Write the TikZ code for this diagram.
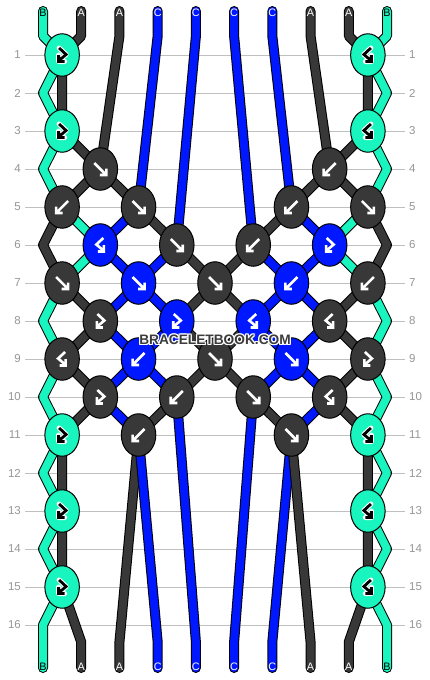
\documentclass[tikz,border=0pt]{standalone}
\usepackage{fontspec}
\setmainfont{Liberation Sans}
\usetikzlibrary{shapes.geometric}
\definecolor{cy}{RGB}{24,245,190}
\definecolor{dk}{RGB}{56,56,56}
\definecolor{bl}{RGB}{0,24,255}
\definecolor{gridc}{RGB}{192,192,192}
\definecolor{numc}{RGB}{150,150,150}
\definecolor{wmc}{RGB}{60,60,60}
\tikzset{
  strand/.style={line width=1pt, double distance=8pt, line cap=round, line join=round},
  knotshape/.style={ellipse, draw=black, line width=1pt, minimum width=34.5pt, minimum height=42.5pt, inner sep=0pt},
  gridline/.style={draw=gridc, line width=1pt},
  rownum/.style={text=numc, font=\fontsize{11.5}{12}\selectfont, inner sep=0pt},
  lab/.style={font=\fontsize{10.8}{11}\selectfont, inner sep=0pt},
  wm/.style={font=\bfseries\fontsize{13.7}{14}\selectfont, inner sep=0pt},
  arw/.style={draw=white, line width=2.6pt, line cap=butt, line join=miter},
  arwh/.style={draw=white, line width=5pt, line cap=round, line join=round},
  arwb/.style={draw=black, line width=2.8pt, line cap=butt, line join=miter},
  af/.pic={\draw[arw] (-6,-6) -- (5,5) (6,-0.5) -- (6,6) -- (-0.5,6);},
  ab/.pic={\draw[arw] (6,-6) -- (-5,5) (-6,-0.5) -- (-6,6) -- (0.5,6);},
  afb/.pic={\draw[arw] (-3,-7) -- (4,-0.5) -- (-2.5,5) (-3.5,0) -- (-3.5,6.5) -- (2.5,6.5);},
  abf/.pic={\draw[arw] (3,-7) -- (-4,-0.5) -- (2.5,5) (3.5,0) -- (3.5,6.5) -- (-2.5,6.5);},
  cfb/.pic={\draw[arwh] (-3,-7) -- (4,-0.5) -- (-2.5,5) (-3.5,0) -- (-3.5,6.5) -- (2.5,6.5);
            \draw[arwb] (-3,-7) -- (4,-0.5) -- (-2.5,5) (-3.5,0) -- (-3.5,6.5) -- (2.5,6.5);},
  cbf/.pic={\draw[arwh] (3,-7) -- (-4,-0.5) -- (2.5,5) (3.5,0) -- (3.5,6.5) -- (-2.5,6.5);
            \draw[arwb] (3,-7) -- (-4,-0.5) -- (2.5,5) (3.5,0) -- (3.5,6.5) -- (-2.5,6.5);},
}
\newcommand\kn[4]{\node[knotshape,fill=#3] (N#1-#2) at (K#1-#2) {}; \pic at (K#1-#2) {#4};}
\begin{document}
\begin{tikzpicture}[x=1pt,y=-1pt]
\path[use as bounding box, fill=white] (0,0) rectangle (430,680);
% coordinates
\foreach \i in {0,...,9}{
  \pgfmathsetmacro\xx{43+38.222*\i}
  \coordinate (T\i) at (\xx,11);
  \coordinate (U\i) at (\xx,36);
  \coordinate (D\i) at (\xx,642);
  \coordinate (B\i) at (\xx,668);
}
\foreach \r in {1,...,16}{
  \pgfmathsetmacro\yy{55+38*(\r-1)}
  \coordinate (EL\r) at (43,\yy);
  \coordinate (ER\r) at (387,\yy);
  \coordinate (GL\r) at (25,\yy);
  \coordinate (GR\r) at (405,\yy);
  \draw[gridline] (GL\r) -- (GR\r);
  \node[rownum,anchor=east] (NL\r) at (21,\yy) {\r};
  \node[rownum,anchor=west] (NR\r) at (409,\yy) {\r};
  \foreach \p in {0,...,8}{
    \pgfmathsetmacro\kx{43+38.222*(\p+0.5)}
    \coordinate (K\r-\p) at (\kx,\yy);
  }
}
% strands
\draw[strand, double=cy] (T0) -- (U0) -- (K1-0) -- (EL2) -- (K3-0) -- (EL4) -- (K5-0) -- (K6-1) -- (K7-0) -- (EL8) -- (K9-0) -- (EL10) -- (K11-0) -- (EL12) -- (K13-0) -- (EL14) -- (K15-0) -- (EL16) -- (B0);
\draw[strand, double=dk] (T1) -- (U1) -- (K1-0) -- (K3-0) -- (K4-1) -- (K5-2) -- (K6-3) -- (K7-4) -- (K8-5) -- (K9-4) -- (K10-3) -- (K11-2) -- (D2) -- (B2);
\draw[strand, double=dk] (T2) -- (U2) -- (K4-1) -- (K5-0) -- (EL6) -- (K7-0) -- (K8-1) -- (K9-0) -- (K10-1) -- (K11-0) -- (K13-0) -- (K15-0) -- (D1) -- (B1);
\draw[strand, double=bl] (T3) -- (U3) -- (K5-2) -- (K6-1) -- (K7-2) -- (K8-3) -- (K9-2) -- (K10-1) -- (K11-2) -- (D3) -- (B3);
\draw[strand, double=bl] (T4) -- (U4) -- (K6-3) -- (K7-2) -- (K8-1) -- (K9-2) -- (K10-3) -- (D4) -- (B4);
\draw[strand, double=bl] (T5) -- (U5) -- (K6-5) -- (K7-6) -- (K8-7) -- (K9-6) -- (K10-5) -- (D5) -- (B5);
\draw[strand, double=bl] (T6) -- (U6) -- (K5-6) -- (K6-7) -- (K7-6) -- (K8-5) -- (K9-6) -- (K10-7) -- (K11-6) -- (D6) -- (B6);
\draw[strand, double=dk] (T7) -- (U7) -- (K4-7) -- (K5-8) -- (ER6) -- (K7-8) -- (K8-7) -- (K9-8) -- (K10-7) -- (K11-8) -- (K13-8) -- (K15-8) -- (D8) -- (B8);
\draw[strand, double=dk] (T8) -- (U8) -- (K1-8) -- (K3-8) -- (K4-7) -- (K5-6) -- (K6-5) -- (K7-4) -- (K8-3) -- (K9-4) -- (K10-5) -- (K11-6) -- (D7) -- (B7);
\draw[strand, double=cy] (T9) -- (U9) -- (K1-8) -- (ER2) -- (K3-8) -- (ER4) -- (K5-8) -- (K6-7) -- (K7-8) -- (ER8) -- (K9-8) -- (ER10) -- (K11-8) -- (ER12) -- (K13-8) -- (ER14) -- (K15-8) -- (ER16) -- (B9);
% knots
\kn{1}{0}{cy}{cfb} \kn{1}{8}{cy}{cbf}
\kn{3}{0}{cy}{cfb} \kn{3}{8}{cy}{cbf}
\kn{4}{1}{dk}{af} \kn{4}{7}{dk}{ab}
\kn{5}{0}{dk}{ab} \kn{5}{2}{dk}{af} \kn{5}{6}{dk}{ab} \kn{5}{8}{dk}{af}
\kn{6}{1}{bl}{abf} \kn{6}{3}{dk}{af} \kn{6}{5}{dk}{ab} \kn{6}{7}{bl}{afb}
\kn{7}{0}{dk}{af} \kn{7}{2}{bl}{af} \kn{7}{4}{dk}{af} \kn{7}{6}{bl}{ab} \kn{7}{8}{dk}{ab}
\kn{8}{1}{dk}{afb} \kn{8}{3}{bl}{afb} \kn{8}{5}{bl}{abf} \kn{8}{7}{dk}{abf}
\kn{9}{0}{dk}{abf} \kn{9}{2}{bl}{ab} \kn{9}{4}{dk}{af} \kn{9}{6}{bl}{af} \kn{9}{8}{dk}{afb}
\kn{10}{1}{dk}{afb} \kn{10}{3}{dk}{ab} \kn{10}{5}{dk}{af} \kn{10}{7}{dk}{abf}
\kn{11}{0}{cy}{cfb} \kn{11}{2}{dk}{ab} \kn{11}{6}{dk}{af} \kn{11}{8}{cy}{cbf}
\kn{13}{0}{cy}{cfb} \kn{13}{8}{cy}{cbf}
\kn{15}{0}{cy}{cfb} \kn{15}{8}{cy}{cbf}
% end labels
\foreach \i/\l/\c in {0/B/black,1/A/white,2/A/white,3/C/white,4/C/white,5/C/white,6/C/white,7/A/white,8/A/white,9/B/black}{
  \node[lab,text=\c] (LT\i) at (43+38.222*\i,12.5) {\l};
  \node[lab,text=\c] (LB\i) at (43+38.222*\i,667) {\l};
}
% watermark: white halo drawn as stroked text outline behind the dark text
\foreach \dx/\dy [count=\c] in {-1/-1,-1/0,-1/1,0/-1,0/1,1/-1,1/0,1/1}{
  \node[wm,text=white] (WH\c) at (215+\dx,340+\dy) {BRACELETBOOK.COM};
}
\node[wm,text=wmc] (WM) at (215,340) {BRACELETBOOK.COM};
\end{tikzpicture}
\end{document}
